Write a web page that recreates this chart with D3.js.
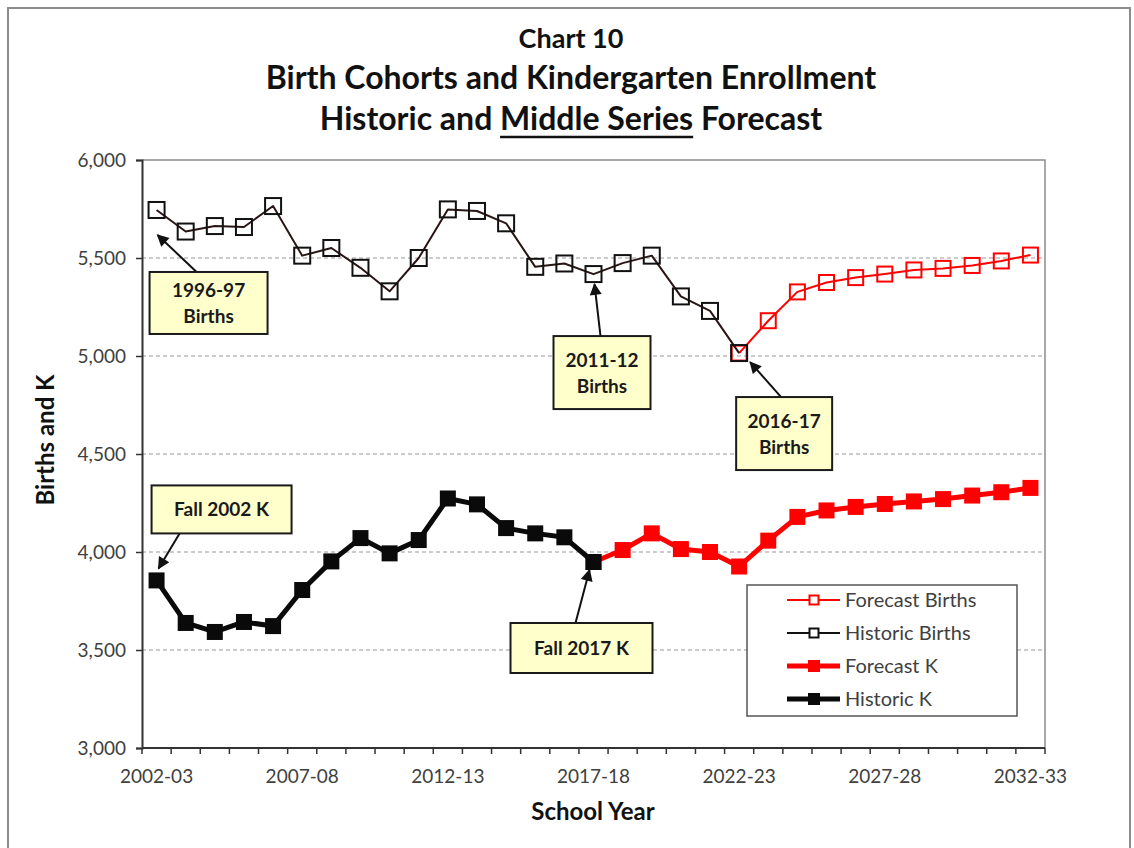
<!DOCTYPE html>
<html lang="en">
<head>
  <meta charset="utf-8">
  <title>Chart 10</title>
  <script src="https://cdn.jsdelivr.net/npm/d3@7/dist/d3.min.js"></script>
  <style>
    body { margin: 0; background: #fff; }
    text { font-family: Lato, "Open Sans", sans-serif; }
  </style>
</head>
<body>
<div id="chart"></div>
<script>
// school years on the category axis
var years = ["2002-03", "2003-04", "2004-05", "2005-06", "2006-07", "2007-08", "2008-09",
             "2009-10", "2010-11", "2011-12", "2012-13", "2013-14", "2014-15", "2015-16",
             "2016-17", "2017-18", "2018-19", "2019-20", "2020-21", "2021-22", "2022-23",
             "2023-24", "2024-25", "2025-26", "2026-27", "2027-28", "2028-29", "2029-30",
             "2030-31", "2031-32", "2032-33"];
var tickYears = ["2002-03", "2007-08", "2012-13", "2017-18", "2022-23", "2027-28", "2032-33"];
var yTicks = [3000, 3500, 4000, 4500, 5000, 5500, 6000];

// births, 2002-03 .. 2022-23
var historicBirths = [5745, 5635, 5663, 5658, 5765, 5512, 5551, 5450, 5330, 5500, 5748,
                      5740, 5677, 5455, 5472, 5418, 5474, 5512, 5304, 5230, 5015];
// births forecast, 2022-23 .. 2032-33
var forecastBirths = [5015, 5180, 5327, 5375, 5400, 5418, 5439, 5447, 5462, 5485, 5515];
// kindergarten, 2002-03 .. 2017-18
var historicK = [3855, 3638, 3592, 3643, 3622, 3806, 3952, 4071, 3993, 4061, 4273,
                 4243, 4122, 4095, 4075, 3949];
// kindergarten forecast, 2017-18 .. 2032-33
var forecastK = [3949, 4010, 4095, 4015, 4000, 3926, 4058, 4179, 4212, 4230, 4245,
                 4258, 4270, 4288, 4305, 4327];

var W = 1134, H = 848;
var svg = d3.select("#chart").append("svg").attr("width", W).attr("height", H);

var x = d3.scaleBand().domain(years).range([142, 1045]);
var y = d3.scaleLinear().domain([3000, 6000]).range([748, 160]);
var cx = function(yr) { return x(yr) + x.bandwidth() / 2; };

// outer frame
svg.append("rect").attr("x", 8).attr("y", 8).attr("width", 1122).attr("height", 860)
   .attr("fill", "none").attr("stroke", "#8c8c8c").attr("stroke-width", 2);

// titles
svg.append("text").attr("x", 571).attr("y", 48).attr("text-anchor", "middle")
   .attr("font-size", 27).attr("font-weight", "bold").attr("fill", "#111").text("Chart 10");
svg.append("text").attr("x", 571).attr("y", 89).attr("text-anchor", "middle")
   .attr("font-size", 32).attr("font-weight", "bold").attr("fill", "#111")
   .text("Birth Cohorts and  Kindergarten Enrollment");
var t3 = svg.append("text").attr("x", 571).attr("y", 130).attr("text-anchor", "middle")
   .attr("font-size", 32).attr("font-weight", "bold").attr("fill", "#111");
var pre = "Historic and ", mid = "Middle Series", post = " Forecast";
t3.text(pre + mid + post);
var tn = t3.node();
var ux0 = tn.getStartPositionOfChar(pre.length).x;
var ux1 = tn.getEndPositionOfChar(pre.length + mid.length - 1).x;
svg.append("line").attr("x1", ux0).attr("x2", ux1).attr("y1", 137).attr("y2", 137)
   .attr("stroke", "#111").attr("stroke-width", 2.5);

// gridlines
svg.append("g").selectAll("line").data(yTicks.filter(function(d) { return d > 3000 && d < 6000; }))
   .join("line")
   .attr("x1", 142).attr("x2", 1045).attr("y1", d => y(d)).attr("y2", d => y(d))
   .attr("stroke", "#9a9a9a").attr("stroke-width", 1.2).attr("stroke-dasharray", "4,3");

// plot border top / right
svg.append("path").attr("d", "M142," + y(6000) + "H1045V" + y(3000))
   .attr("fill", "none").attr("stroke", "#8c8c8c").attr("stroke-width", 1.5);

// y axis
var yAxis = svg.append("g").attr("transform", "translate(142,0)")
   .call(d3.axisLeft(y).tickValues(yTicks).tickFormat(d3.format(",")).tickSize(6).tickPadding(10));
yAxis.select(".domain").attr("stroke", "#333").attr("stroke-width", 2);
yAxis.selectAll(".tick line").attr("stroke", "#333").attr("stroke-width", 1.5);
yAxis.selectAll("text").attr("font-size", 19).attr("fill", "#404040")
   .style("font-family", "Lato, sans-serif");

// x axis: ticks between categories, labels every 5 years
var xb = years.map(function(d) { return x(d); }).concat([x.range()[1]]);
var xAxis = svg.append("g");
xAxis.append("line").attr("x1", 142).attr("x2", 1045).attr("y1", y(3000)).attr("y2", y(3000))
   .attr("stroke", "#333").attr("stroke-width", 2);
xAxis.selectAll(".xt").data(xb).join("line").attr("class", "xt")
   .attr("x1", d => d).attr("x2", d => d).attr("y1", y(3000)).attr("y2", y(3000) + 6)
   .attr("stroke", "#333").attr("stroke-width", 1.5);
xAxis.selectAll(".xl").data(tickYears).join("text").attr("class", "xl")
   .attr("x", d => cx(d)).attr("y", y(3000) + 35).attr("text-anchor", "middle")
   .attr("font-size", 19).attr("fill", "#404040").text(d => d);

// axis titles
svg.append("text").attr("transform", "translate(54,440) rotate(-90)").attr("text-anchor", "middle")
   .attr("font-size", 24).attr("font-weight", "bold").attr("fill", "#111").text("Births and K");
svg.append("text").attr("x", 593).attr("y", 820).attr("text-anchor", "middle")
   .attr("font-size", 24).attr("font-weight", "bold").attr("fill", "#111").text("School Year");

// series
function pts(vals, startYear) {
  var s = years.indexOf(startYear);
  return vals.map(function(v, i) { return { yr: years[s + i], v: v }; });
}
var line = d3.line().x(d => cx(d.yr)).y(d => y(d.v));

var series = [
  { data: pts(forecastBirths, "2022-23"), color: "#ff0000", width: 2, size: 15, filled: false },
  { data: pts(historicBirths, "2002-03"), color: "#2a1515", mcolor: "#111", width: 2, size: 16, filled: false },
  { data: pts(forecastK, "2017-18"), color: "#ff0000", width: 5, size: 16, filled: true },
  { data: pts(historicK, "2002-03"), color: "#0a0a0a", width: 5, size: 16, filled: true }
];

series.forEach(function(s) {
  var g = svg.append("g");
  g.append("path").datum(s.data).attr("d", line).attr("fill", "none")
   .attr("stroke", s.color).attr("stroke-width", s.width).attr("stroke-linejoin", "round");
  var mc = s.mcolor || s.color;
  g.selectAll("rect").data(s.data).join("rect")
   .attr("x", d => cx(d.yr) - s.size / 2).attr("y", d => y(d.v) - s.size / 2)
   .attr("width", s.size).attr("height", s.size)
   .attr("fill", s.filled ? mc : "none")
   .attr("stroke", mc).attr("stroke-width", s.filled ? 0 : 2);
});

// callouts
var defs = svg.append("defs");
defs.append("marker").attr("id", "arrow").attr("viewBox", "0 0 10 10")
   .attr("refX", 9).attr("refY", 5).attr("markerWidth", 14).attr("markerHeight", 12)
   .attr("markerUnits", "userSpaceOnUse").attr("orient", "auto")
   .append("path").attr("d", "M0,0L10,5L0,10Z").attr("fill", "#111");

var callouts = [
  { lines: ["1996-97", "Births"], yr: "2002-03", v: historicBirths[0],
    head: [1, 25], tail: [40, 62], box: [-7, 62, 118, 62] },
  { lines: ["2011-12", "Births"], yr: "2017-18", v: historicBirths[15],
    head: [1, 10], tail: [7, 62], box: [-40, 62, 97, 73] },
  { lines: ["2016-17", "Births"], yr: "2022-23", v: historicBirths[20],
    head: [11, 9], tail: [42, 44], box: [-3, 44, 96, 73] },
  { lines: ["Fall 2002 K"], yr: "2002-03", v: historicK[0],
    head: [2, -12], tail: [23, -47], box: [-5, -95, 140, 48] },
  { lines: ["Fall 2017 K"], yr: "2017-18", v: historicK[15],
    head: [-4, 8], tail: [-18, 61], box: [-83, 61, 142, 50] }
];

callouts.forEach(function(c) {
  var px = cx(c.yr), py = y(c.v);
  var g = svg.append("g");
  g.append("line").attr("x1", px + c.tail[0]).attr("y1", py + c.tail[1])
   .attr("x2", px + c.head[0]).attr("y2", py + c.head[1])
   .attr("stroke", "#111").attr("stroke-width", 2).attr("marker-end", "url(#arrow)");
  var bx = px + c.box[0], by = py + c.box[1], bw = c.box[2], bh = c.box[3];
  g.append("rect").attr("x", bx).attr("y", by).attr("width", bw).attr("height", bh)
   .attr("fill", "#ffffcc").attr("stroke", "#1a1a1a").attr("stroke-width", 2);
  var n = c.lines.length;
  c.lines.forEach(function(t, i) {
    g.append("text").attr("x", bx + bw / 2)
     .attr("y", by + bh / 2 + (i - (n - 1) / 2) * 26 + 7)
     .attr("text-anchor", "middle").attr("font-size", 19).attr("font-weight", "bold")
     .attr("fill", "#1a1a1a").text(t);
  });
});

// legend
var legend = svg.append("g");
legend.append("rect").attr("x", 747).attr("y", 585).attr("width", 270).attr("height", 131)
   .attr("fill", "#fff").attr("stroke", "#555").attr("stroke-width", 1.5);
var legendItems = [
  { label: "Forecast Births", color: "#ff0000", width: 2, size: 9, filled: false },
  { label: "Historic Births", color: "#111", width: 2, size: 9, filled: false },
  { label: "Forecast K", color: "#ff0000", width: 5, size: 12, filled: true },
  { label: "Historic K", color: "#0a0a0a", width: 5, size: 12, filled: true }
];
var ly = d3.scalePoint().domain(legendItems.map(d => d.label)).range([600, 699]);
legendItems.forEach(function(d) {
  var yy = ly(d.label);
  legend.append("line").attr("x1", 787).attr("x2", 840).attr("y1", yy).attr("y2", yy)
   .attr("stroke", d.color).attr("stroke-width", d.width);
  legend.append("rect").attr("x", 814 - d.size / 2).attr("y", yy - d.size / 2)
   .attr("width", d.size).attr("height", d.size)
   .attr("fill", d.filled ? d.color : "#fff").attr("stroke", d.color)
   .attr("stroke-width", d.filled ? 0 : 2);
  legend.append("text").attr("x", 845).attr("y", yy + 7).attr("font-size", 20)
   .attr("fill", "#404040").text(d.label);
});
</script>
</body>
</html>
